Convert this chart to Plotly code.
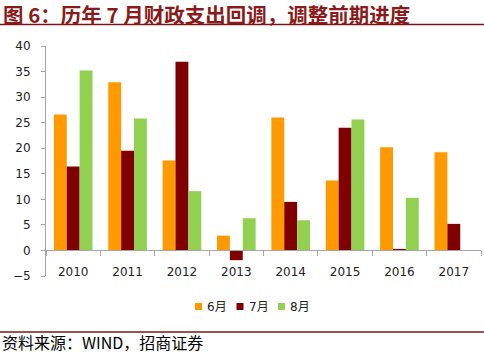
import plotly.graph_objects as go

years = ["2010", "2011", "2012", "2013", "2014", "2015", "2016", "2017"]
june = [26.6, 32.9, 17.6, 2.9, 26.0, 13.7, 20.2, 19.2]
july = [16.4, 19.5, 36.9, -1.9, 9.5, 24.0, 0.3, 5.2]
august = [35.2, 25.8, 11.6, 6.3, 5.9, 25.6, 10.3, None]
series_names = ["6月", "7月", "8月"]
colors = ["#FF9900", "#800000", "#92D050"]

title_text = "图 6：历年 7 月财政支出回调，调整前期进度"
source_text = "资料来源：WIND，招商证券"

W, H = 484, 353
ml, mr, mt, mb = 46, 3, 46, 77
pw = W - ml - mr
ph = H - mt - mb

def py(pix):
    return (H - mb - pix) / ph

def px(pix):
    return (pix - ml) / pw

fig = go.Figure()
for name, vals, c in zip(series_names, [june, july, august], colors):
    fig.add_trace(go.Bar(x=years, y=vals, name=name, showlegend=False,
                         marker=dict(color=c, line=dict(width=0))))

axis_col = "#A6A6A6"
fig.update_layout(
    width=W, height=H,
    margin=dict(l=ml, r=mr, t=mt, b=mb),
    paper_bgcolor="white", plot_bgcolor="white",
    barmode="group", bargap=0.29, bargroupgap=0,
    font=dict(family="DejaVu Sans, Noto Sans CJK SC", size=12, color="#222"),
    xaxis=dict(type="category", anchor="free", position=5 / 45,
               showline=True, linecolor=axis_col, linewidth=1,
               ticks="outside", tickson="boundaries", ticklen=5, tickcolor=axis_col,
               showgrid=False, tickfont=dict(size=12, color="#222"), ticklabelstandoff=10),
    yaxis=dict(range=[-5, 40], dtick=5, showgrid=False, zeroline=False,
               showline=True, linecolor=axis_col, linewidth=1,
               ticks="outside", ticklen=4, tickcolor=axis_col,
               tickfont=dict(size=12, color="#222"), ticklabelstandoff=8),
    showlegend=False,
)

# title
fig.add_annotation(text="<b>" + title_text + "</b>", xref="paper", yref="paper",
                   x=px(2), y=py(14), xanchor="left", yanchor="middle", showarrow=False,
                   borderpad=0,
                   font=dict(family="Noto Sans CJK SC", size=20.5, color="#8B1A1A"))

# legend (drawn manually to match compact spacing)
leg_x0, leg_step, leg_y = 195, 41.5, 306.5
for i, (name, c) in enumerate(zip(series_names, colors)):
    x0 = leg_x0 + i * leg_step
    fig.add_shape(type="rect", xref="paper", yref="paper",
                  x0=px(x0), x1=px(x0 + 7), y0=py(leg_y - 3.5), y1=py(leg_y + 3.5),
                  fillcolor=c, line=dict(width=0))
    fig.add_annotation(text=name, xref="paper", yref="paper", x=px(x0 + 10), y=py(leg_y),
                       xanchor="left", yanchor="middle", showarrow=False,
                       font=dict(size=12, family="DejaVu Sans, Noto Sans CJK SC", color="#222"))

fig.add_shape(type="line", xref="paper", yref="paper", x0=px(0), x1=px(W), y0=py(24.5), y1=py(24.5),
              line=dict(color="#7B1515", width=1.5))
fig.add_shape(type="line", xref="paper", yref="paper", x0=px(0), x1=px(W), y0=py(332), y1=py(332),
              line=dict(color="#7B1515", width=1.5))
fig.add_annotation(text=source_text, xref="paper", yref="paper", x=px(0), y=py(341.5),
                   xanchor="left", yanchor="middle", showarrow=False,
                   font=dict(family="Noto Sans CJK SC", size=16, color="black"))

fig.write_html("out.html")
